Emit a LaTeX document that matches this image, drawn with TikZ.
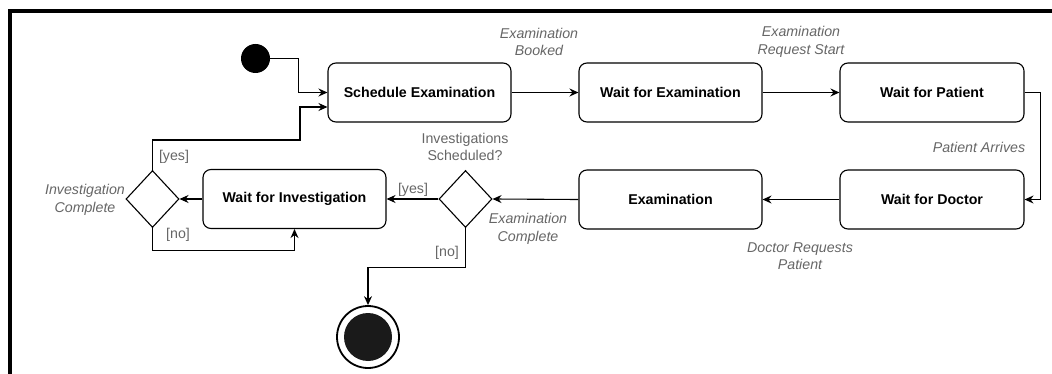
\documentclass[tikz,border=0pt]{standalone}
\usepackage{fontspec}
\setmainfont{Liberation Sans}
\usetikzlibrary{arrows.meta,shapes.geometric,calc}

\definecolor{labelgray}{HTML}{666666}
\definecolor{finalfill}{HTML}{1A1A1A}

\tikzset{
  statebox/.style={draw=black, line width=1.1pt, rounded corners=8pt,
    minimum width=183pt, minimum height=59pt, inner sep=0pt,
    font=\fontsize{14.2}{17}\selectfont\bfseries},
  choice/.style={draw=black, line width=1.1pt, diamond, inner sep=0pt,
    minimum width=53pt, minimum height=57pt},
  flow/.style={draw=black, line width=1.1pt,
    -{Stealth[length=9pt,width=8pt,inset=3pt]}},
  evlabel/.style={text=labelgray, font=\fontsize{14.2}{17.5}\selectfont\itshape,
    align=center, inner sep=0pt},
  guard/.style={text=labelgray, font=\fontsize{14.2}{17.5}\selectfont,
    align=center, inner sep=0pt},
}

\begin{document}
\begin{tikzpicture}[x=1pt,y=-1pt]
  \useasboundingbox (0,0) rectangle (1052,374);

  % frame edges
  \draw[line width=4pt, line join=miter] (9.5,374) -- (9.5,11) -- (1052,11);

  % initial and final states
  \node[circle, fill=black, minimum size=29pt, inner sep=0pt] (init) at (255.5,58.5) {};
  \node[circle, draw=black, line width=1.8pt, fill=white, minimum size=62pt, inner sep=0pt] (final) at (368,337) {};
  \node[circle, fill=finalfill, minimum size=48pt, inner sep=0pt] (finalcore) at (368,337) {};

  % top row
  \node[statebox] (sched) at (419.5,92.5) {Schedule Examination};
  \node[statebox] (wexam) at (670.5,92.5) {Wait for Examination};
  \node[statebox, minimum width=184pt] (wpat) at (932,92.5) {Wait for Patient};

  % bottom row
  \node[statebox, minimum width=184pt] (wdoc) at (932,199.5) {Wait for Doctor};
  \node[statebox] (exam) at (670.5,199.5) {Examination};
  \node[statebox] (winv) at (294.5,199) {Wait for Investigation};

  % decisions
  \node[choice] (dec2) at (465.5,199) {};
  \node[choice] (dec1) at (152.5,199) {};

  % transitions
  \draw[flow] (init.east) -- ++(28,0) |- (sched.west);
  \draw[flow] (dec1.north) |- (300,140) |- ([yshift=-14.5pt]sched.west);
  \draw[flow] (sched.east) -- (wexam.west);
  \draw[flow] (wexam.east) -- (wpat.west);
  \draw[flow] (wpat.east) -- ++(16,0) |- (wdoc.east);
  \draw[flow] (wdoc.west) -- (exam.east);
  \draw[flow] (exam.west) -- (dec2.east);
  \draw[flow] (dec2.west) -- (winv.east);
  \draw[flow] (winv.west) -- (dec1.east);
  \draw[flow] (dec1.south) -- ++(0,22) -| (winv.south);
  \draw[flow] (dec2.south) -- ++(0,39) -| (final.north);

  % event labels
  \node[evlabel] (lbooked) at (539,42) {Examination\\Booked};
  \node[evlabel] (lreq) at (801,42) {Examination\\Request Start};
  \node[evlabel] (larr) at (979,147) {Patient Arrives};
  \node[evlabel] (ldocreq) at (800,256) {Doctor Requests\\Patient};
  \node[evlabel] (lexdone) at (528,229) {Examination\\Complete};
  \node[evlabel] (linvdone) at (85,200) {Investigation\\Complete};

  % guards and question
  \node[guard] (lq) at (465,147) {Investigations\\Scheduled?};
  \node[guard] (yes2) at (413,190) {[yes]};
  \node[guard] (no2) at (447,253) {[no]};
  \node[guard] (yes1) at (174,157) {[yes]};
  \node[guard] (no1) at (178,235) {[no]};
\end{tikzpicture}
\end{document}
